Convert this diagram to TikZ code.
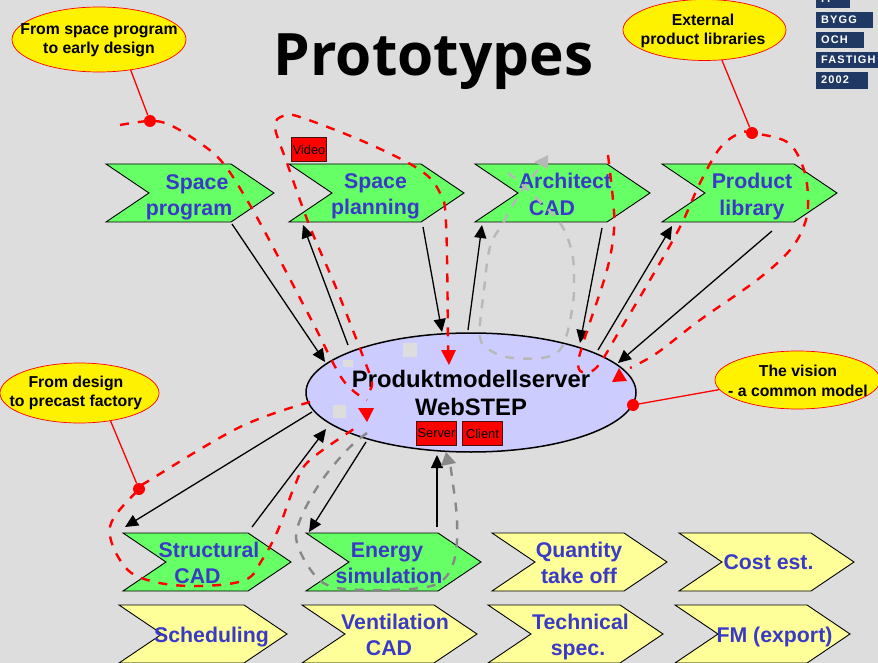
\documentclass[tikz,border=0pt]{standalone}
\usepackage{fontspec}
\setmainfont{Liberation Sans}
\newfontfamily\titlefont{Open Sans}
\newfontfamily\logofont[LetterSpace=10]{Liberation Sans}
\usetikzlibrary{arrows.meta,shapes.geometric}
\definecolor{bgc}{HTML}{DDDDDD}
\definecolor{grn}{HTML}{66FF66}
\definecolor{yel}{HTML}{FFFF99}
\definecolor{lab}{HTML}{3A3AC8}
\definecolor{lil}{HTML}{CCCCFF}
\definecolor{nav}{HTML}{1F3864}
\definecolor{lg}{HTML}{B8B8B8}
\definecolor{mg}{HTML}{888888}
\definecolor{btnline}{HTML}{4A1010}
\tikzset{x=1pt,y=-1pt,
 chev/.style={draw=black,line width=.9pt,line join=miter},
 lbl/.style={font=\fontsize{21.3}{26.3}\selectfont\bfseries,text=lab,align=center,inner sep=0pt},
 call/.style={ellipse,draw=red,fill=yellow,line width=.7pt,inner sep=0pt},
 callt/.style={inner sep=0pt,font=\fontsize{15.8}{19.3}\selectfont\bfseries,align=center},
 lead/.style={draw=red,line width=1.3pt},
 dotn/.style={circle,fill=red,inner sep=0pt,minimum size=12pt},
 arr/.style={draw=black,line width=1.3pt,-{Triangle[length=13pt,width=12pt]}},
 dashbase/.style={line width=2.4pt,dash pattern=on 9pt off 9pt},
 rdash/.style={draw=red,dashbase},
 gdash/.style={draw=lg,dashbase},
 mdash/.style={draw=mg,dashbase},
 btn/.style={draw=btnline,fill=red,line width=1.5pt,inner sep=0pt,font=\fontsize{12.8}{14}\selectfont},
 logo/.style={fill=nav,draw=none,anchor=north west,inner sep=0pt},
 logot/.style={anchor=west,inner sep=0pt,text=white,font=\logofont\fontsize{11}{12}\selectfont\bfseries},
 sq/.style={fill=bgc},
}
\newcommand{\chevron}[4]{% x, y, top width, fill
 \path[chev,fill=#4] (#1,#2) -- ++(#3,0) -- ++(43,29) -- ++(-43,29) -- ++(-#3,0) -- ++(43,-29) -- cycle;
}
\begin{document}
\begin{tikzpicture}
\useasboundingbox (0,0) rectangle (878,663);
\fill[bgc] (0,0) rectangle (878,663);
% title
\node[inner sep=0pt,anchor=base,font=\titlefont\fontsize{58.5}{70}\selectfont\bfseries] (title) at (433.5,76) {Prototypes};
% logo
\node[logo,minimum width=34pt,minimum height=16pt] (l0) at (816,-8) {};
\node[logo,minimum width=57pt,minimum height=16pt] (l1) at (816,12) {};
\node[logo,minimum width=48pt,minimum height=16pt] (l2) at (816,32) {};
\node[logo,minimum width=66pt,minimum height=16pt] (l3) at (816,52) {};
\node[logo,minimum width=52pt,minimum height=17pt] (l4) at (816,72) {};
\node[logot] (l0t) at (821,-1) {IT};
\node[logot] (l1t) at (821,20) {BYGG};
\node[logot] (l2t) at (821,40) {OCH};
\node[logot] (l3t) at (821,60) {FASTIGH};
\node[logot] (l4t) at (821,80) {2002};
% chevrons
\chevron{106}{164}{125}{grn}
\chevron{289}{164}{132}{grn}
\chevron{475}{164}{132}{grn}
\chevron{662}{164}{132}{grn}
\chevron{123}{533}{125}{grn}
\chevron{306}{533}{132}{grn}
\chevron{492}{533}{132}{yel}
\chevron{679}{533}{132}{yel}
\chevron{119}{605}{125}{yel}
\chevron{302}{605}{132}{yel}
\chevron{488}{605}{132}{yel}
\chevron{675}{605}{132}{yel}
\node[lbl] (t1) at (189,197) {\hspace*{16pt}Space\\program};
\node[lbl] (t2) at (375.5,196) {Space\\planning};
\node[lbl] (t3) at (565,194.5) {Architect\\CAD\hspace*{26pt}};
\node[lbl] (t4) at (752,196.5) {Product\\library};
\node[lbl] (t5) at (209,563) {Structural\\CAD\hspace*{23pt}};
\node[lbl] (t6) at (389,563) {Energy\hspace*{4pt}\\simulation};
\node[lbl] (t7) at (579,563) {Quantity\\take off};
\node[lbl] (t8) at (768.5,562.5) {Cost est.};
\node[lbl] (t9) at (211.5,637) {Scheduling};
\node[lbl] (t10) at (395,635) {Ventilation\\CAD\hspace*{12pt}};
\node[lbl] (t11) at (580.5,637) {Technical\\spec.\hspace*{5pt}};
\node[lbl] (t12) at (774.5,637) {FM (export)};
% server ellipse
\node[ellipse,draw=black,fill=lil,line width=1.5pt,minimum width=330pt,minimum height=119pt,inner sep=0pt] (srv) at (471,392.5) {};
\fill[sq] (403,343) rectangle (417,357);
\fill[sq] (343,360) rectangle (353,367);
\fill[sq] (333,405) rectangle (346,418);
\node[inner sep=0pt,align=center,font=\fontsize{23.8}{28.3}\selectfont\bfseries] (srvt) at (471,393) {Produktmodellserver\\WebSTEP};
\node[btn,minimum width=40pt,minimum height=24pt] (bs) at (436.5,433.5) {Server};
\node[btn,minimum width=40pt,minimum height=24pt] (bc) at (482.5,433.5) {Client};
\node[btn,minimum width=35pt,minimum height=24pt] (bv) at (309,149.5) {Video};
% black arrows
\coordinate (a1s) at (232,224); \coordinate (a1e) at (325,362);
\coordinate (a2s) at (348,345); \coordinate (a2e) at (303,225);
\coordinate (a3s) at (423,227); \coordinate (a3e) at (442,332);
\coordinate (a4s) at (468,330); \coordinate (a4e) at (482,225);
\coordinate (a5s) at (602,228); \coordinate (a5e) at (580,343);
\coordinate (a6s) at (598,350); \coordinate (a6e) at (672,226);
\coordinate (a7s) at (772,231); \coordinate (a7e) at (618,363);
\coordinate (a8s) at (312,412); \coordinate (a8e) at (125,527);
\coordinate (a9s) at (252,527); \coordinate (a9e) at (326,429);
\coordinate (a10s) at (366,442); \coordinate (a10e) at (309,532);
\coordinate (a11s) at (437,527); \coordinate (a11e) at (437,455);
\foreach \i in {1,...,11} \draw[arr] (a\i s) -- (a\i e);
% grey dashed
\draw[gdash] plot[smooth,tension=.6] coordinates {(538,170) (520,193) (503,223) (490,247) (484,290) (480,337) (493,352) (513,358) (547,357) (563,345) (572,310) (574,283) (572,253) (560,223) (530,192) (507,172)};
\fill[lg] (548,155) -- (534,162) -- (548,169) -- cycle;
\draw[mdash] plot[smooth,tension=.6] coordinates {(367,433) (347,450) (320,483) (300,520) (297,543) (313,573) (333,587) (373,590) (420,588) (443,580) (455,557) (457,520) (452,477) (450,463)};
\fill[mg] (446,452) -- (441,466) -- (456,463) -- cycle;
% red dashed
\draw[rdash] plot[smooth,tension=.6] coordinates {(120,125) (150,121) (170,125) (200,143) (223,163) (247,200) (273,247) (313,323) (343,380) (367,400)};
\draw[rdash] plot[smooth,tension=.6] coordinates {(370,390) (372,383) (367,367) (337,290) (310,227) (287,163) (275,127) (283,116) (300,117) (367,143) (420,170) (440,193) (446,223) (448,340) (448,352)};
\fill[red] (449,365) -- (441,350) -- (456,350) -- cycle;
\draw[rdash] plot[smooth,tension=.6] coordinates {(608,155) (613,200) (614,230) (607,270) (588,328) (582,347) (578,363) (582,372) (597,367) (620,330) (650,280) (680,227) (700,183) (720,148) (740,133) (752,133) (787,142) (803,167) (808,197) (805,223) (790,250) (757,280) (700,320) (657,353) (630,368)};
\fill[red] (619,368) -- (612,382) -- (627,381) -- cycle;
\draw[rdash] plot[smooth,tension=.6] coordinates {(310,402) (240,427) (150,480) (139,489) (110,527) (125,567) (155,582) (200,586) (245,580) (262,560) (278,530) (295,485) (310,460) (360,425)};
\fill[red] (358,408) -- (374,408) -- (367,422) -- cycle;
% callouts
\node[call,minimum width=174pt,minimum height=65pt] (k1) at (99,39.5) {};
\node[callt] (k1t) at (99,40) {From space program\\to early design};
\node[call,minimum width=163pt,minimum height=61pt] (k2) at (704.5,30) {};
\node[callt] (k2t) at (703,31) {External\\product libraries};
\node[call,minimum width=159pt,minimum height=60pt] (k3) at (79.5,393) {};
\node[callt] (k3t) at (76,393) {From design\\to precast factory};
\node[call,minimum width=165pt,minimum height=58pt] (k4) at (797.5,380) {};
\node[callt] (k4t) at (798,381) {The vision\\- a common model};
\node[dotn] (d1) at (150,121) {};
\node[dotn] (d2) at (752,133) {};
\node[dotn] (d3) at (139,489) {};
\node[dotn] (d4) at (633,405) {};
\draw[lead] (k1.-44) -- (d1);
\draw[lead] (k2.-60) -- (d2);
\draw[lead] (k3.-42) -- (d3);
\draw[lead] (k4.187) -- (d4);
\end{tikzpicture}
\end{document}
